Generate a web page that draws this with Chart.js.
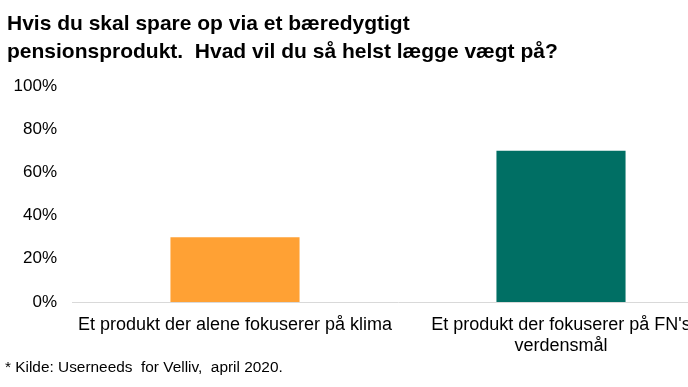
<!DOCTYPE html>
<html>
<head>
<meta charset="utf-8">
<script src="https://cdn.jsdelivr.net/npm/chart.js@4.4.0/dist/chart.umd.min.js"></script>
<style>
    html, body { margin: 0; padding: 0; background: #fff; }
    #wrap { position: relative; width: 688px; height: 387px; overflow: hidden; }
    #chart { position: absolute; left: 0; top: 0; }
    .title {
        position: absolute; left: 7px; top: 9px;
        font: bold 21px 'Liberation Sans', Arial, sans-serif;
        line-height: 28px; color: #000; white-space: nowrap;
    }
    .note {
        position: absolute; left: 5px; top: 358px;
        font: 15.4px 'Liberation Sans', Arial, sans-serif;
        color: #000; white-space: nowrap;
    }
</style>
</head>
<body>
<div id="wrap">
    <canvas id="chart" width="730" height="387"></canvas>
    <div class="title">Hvis du skal spare op via et bæredygtigt<br>pensionsprodukt.&nbsp; Hvad vil du så helst lægge vægt på?</div>
    <div class="note">* Kilde: Userneeds&nbsp; for Velliv,&nbsp; april 2020.</div>
</div>
<script>
const categories = [
    'Et produkt der alene fokuserer på klima',
    ["Et produkt der fokuserer på FN's", 'verdensmål']
];
const shares = [30, 70];
const barColors = ['#FFA134', '#006F64'];
const yTicks = [0, 20, 40, 60, 80, 100];

const font = "'Liberation Sans', Arial, sans-serif";

new Chart(document.getElementById('chart').getContext('2d'), {
    type: 'bar',
    data: {
        labels: categories,
        datasets: [{
            data: shares,
            backgroundColor: barColors,
            borderWidth: 0,
            categoryPercentage: 1,
            barPercentage: 0.396
        }]
    },
    options: {
        responsive: false,
        animation: false,
        layout: { padding: { top: 86, left: 0, right: 6, bottom: 0 } },
        plugins: {
            legend: { display: false },
            tooltip: { enabled: false }
        },
        scales: {
            y: {
                min: 0,
                max: 100,
                afterFit: (scale) => { scale.width = 72; },
                afterBuildTicks: (scale) => { scale.ticks = yTicks.map(v => ({ value: v })); },
                grid: { display: false, drawTicks: false },
                border: { display: false },
                ticks: {
                    padding: 15,
                    color: '#000',
                    font: { family: font, size: 17 },
                    callback: (v) => v + '%'
                }
            },
            x: {
                afterFit: (scale) => { scale.height = 85; },
                grid: { display: false, drawTicks: false },
                border: { display: true, color: '#D9D9D9', width: 1 },
                ticks: {
                    padding: 13,
                    color: '#000',
                    maxRotation: 0,
                    autoSkip: false,
                    font: { family: font, size: 18, lineHeight: 1.15 }
                }
            }
        }
    }
});
</script>
</body>
</html>
